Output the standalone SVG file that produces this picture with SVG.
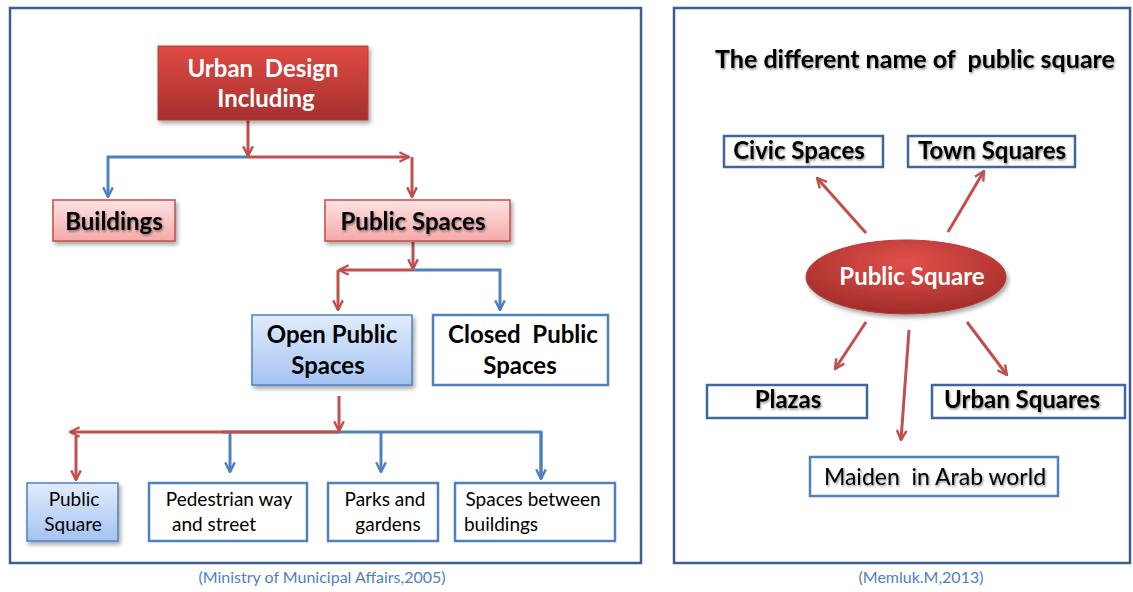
<svg xmlns="http://www.w3.org/2000/svg" width="1133" height="592" viewBox="0 0 1133 592">
<defs>
<style>
.frame{fill:#fff;stroke:#3a5f8e;stroke-width:2.5}
.r{stroke:#c0504d;stroke-width:3;fill:none}
.b{stroke:#4f81bd;stroke-width:3;fill:none}
.wbox{fill:#fff;stroke:#4f81bd;stroke-width:2.5}
.dbox{fill:#fff;stroke:#3f66a0;stroke-width:2.5}
.pink{fill:url(#gPink);stroke:#c0504d;stroke-width:1.5}
.lblue{fill:url(#gBlue);stroke:#4f81bd;stroke-width:1.5}
text{font-family:Lato,"Open Sans","Liberation Sans",sans-serif;text-anchor:middle;fill:#000;white-space:pre}
.bold{font-weight:bold}
.white{fill:#fff}
.sh{filter:url(#tsh)}
.cap{fill:#4f81bd;font-size:16px}
</style>
<linearGradient id="gRed" x1="0" y1="0" x2="0" y2="1"><stop offset="0" stop-color="#e04a45"/><stop offset="1" stop-color="#a5302d"/></linearGradient>
<linearGradient id="gPink" x1="0" y1="0" x2="0" y2="1"><stop offset="0" stop-color="#fde3e3"/><stop offset="1" stop-color="#f6a9a8"/></linearGradient>
<linearGradient id="gBlue" x1="0" y1="0" x2="0" y2="1"><stop offset="0" stop-color="#e2ecfb"/><stop offset="1" stop-color="#a3c3f3"/></linearGradient>
<radialGradient id="gEll" cx="0.5" cy="0.3" r="0.7"><stop offset="0" stop-color="#e2504b"/><stop offset="1" stop-color="#a12c29"/></radialGradient>
<filter id="sh" x="-10%" y="-10%" width="130%" height="140%"><feDropShadow dx="2" dy="3" stdDeviation="2" flood-color="#000" flood-opacity="0.35"/></filter>
<filter id="tsh" x="-5%" y="-20%" width="110%" height="150%"><feDropShadow dx="1" dy="1.5" stdDeviation="1.2" flood-color="#000" flood-opacity="0.45"/></filter>
<marker id="ar" viewBox="0 0 10 10" refX="9" refY="5" markerWidth="4" markerHeight="4" orient="auto" markerUnits="strokeWidth"><path d="M1,1 L9,5 L1,9" fill="none" stroke="#c0504d" stroke-width="2"/></marker>
<marker id="ab" viewBox="0 0 10 10" refX="9" refY="5" markerWidth="4" markerHeight="4" orient="auto" markerUnits="strokeWidth"><path d="M1,1 L9,5 L1,9" fill="none" stroke="#4f81bd" stroke-width="2"/></marker>
</defs>
<rect x="0" y="0" width="1133" height="592" fill="#fff"/>
<rect class="frame" x="10" y="8" width="631" height="555"/>
<rect class="frame" x="674" y="8" width="456" height="555"/>

<g id="connectors">
<path class="b" d="M248,157 H108 V197" marker-end="url(#ab)"/>
<path class="r" d="M248,120 V156" marker-end="url(#ar)"/>
<path class="r" d="M248,157 H409" marker-end="url(#ar)"/>
<path class="r" d="M412,157 V197" marker-end="url(#ar)"/>
<path class="r" d="M413,242 V269" marker-end="url(#ar)"/>
<path class="b" d="M413,270 H500 V310" marker-end="url(#ab)"/>
<path class="r" d="M413,270 H339" marker-end="url(#ar)"/>
<path class="r" d="M338,270 V310" marker-end="url(#ar)"/>
<path class="b" d="M222,432 H541 V479" />
<path class="b" d="M541,432 V479" marker-end="url(#ab)"/>
<path class="b" d="M230,432 V472" marker-end="url(#ab)"/>
<path class="b" d="M381,432 V472" marker-end="url(#ab)"/>
<path class="r" d="M339,396 V431" marker-end="url(#ar)"/>
<path class="r" d="M339,432 H70" marker-end="url(#ar)"/>
<path class="r" d="M76,436 V480" marker-end="url(#ar)"/>
<path class="r" d="M866,233 L817,178" marker-end="url(#ar)"/>
<path class="r" d="M948,232 L984,171" marker-end="url(#ar)"/>
<path class="r" d="M866,322 L835,369" marker-end="url(#ar)"/>
<path class="r" d="M909,330 L901,440" marker-end="url(#ar)"/>
<path class="r" d="M967,322 L1007,375" marker-end="url(#ar)"/>
</g>

<g id="urban-design">
<rect x="158" y="46" width="210" height="74" fill="url(#gRed)" stroke="#b33c39" stroke-width="1" filter="url(#sh)"/>
<text class="bold white" x="263" y="77" font-size="24">Urban  Design</text>
<text class="bold white" x="266" y="107" font-size="24">Including</text>
</g>
<g id="buildings">
<rect class="pink" x="53" y="200" width="122" height="41" filter="url(#sh)"/>
<text class="bold sh" x="114" y="230" font-size="24">Buildings</text>
</g>
<g id="public-spaces">
<rect class="pink" x="325" y="200" width="185" height="41" filter="url(#sh)"/>
<text class="bold sh" x="413" y="230" font-size="24">Public Spaces</text>
</g>
<g id="open-public-spaces">
<rect class="lblue" x="252" y="315" width="160" height="70" filter="url(#sh)"/>
<text class="bold" x="332" y="343" font-size="24">Open Public</text>
<text class="bold" x="328" y="374" font-size="24">Spaces</text>
</g>
<g id="closed-public-spaces">
<rect class="wbox" x="433" y="315" width="175" height="70"/>
<text class="bold" x="523" y="343" font-size="24">Closed  Public</text>
<text class="bold" x="520" y="374" font-size="24">Spaces</text>
</g>
<g id="public-square-box">
<rect class="lblue" x="27" y="483" width="91" height="58" filter="url(#sh)"/>
<text x="74" y="506" font-size="19">Public</text>
<text x="73" y="531" font-size="19">Square</text>
</g>
<g id="pedestrian">
<rect class="wbox" x="149" y="483" width="158" height="58"/>
<text x="229" y="506" font-size="19">Pedestrian way</text>
<text x="214" y="531" font-size="19">and street</text>
</g>
<g id="parks">
<rect class="wbox" x="328" y="483" width="110" height="58"/>
<text x="385" y="506" font-size="19">Parks and</text>
<text x="388" y="531" font-size="19">gardens</text>
</g>
<g id="spaces-between">
<rect class="wbox" x="455" y="483" width="160" height="58"/>
<text x="533" y="506" font-size="19">Spaces between</text>
<text x="501" y="531" font-size="19">buildings</text>
</g>
<text class="cap" x="322" y="583">(Ministry of Municipal Affairs,2005)</text>

<text class="bold sh" x="915" y="68" font-size="25">The different name of  public square</text>
<g id="civic-spaces">
<rect class="dbox" x="724" y="136" width="159" height="31"/>
<text class="bold sh" x="799" y="159" font-size="24">Civic Spaces</text>
</g>
<g id="town-squares">
<rect class="dbox" x="908" y="136" width="167" height="31"/>
<text class="bold sh" x="992" y="159" font-size="24">Town Squares</text>
</g>
<g id="public-square-ellipse">
<ellipse cx="906" cy="277" rx="100" ry="37" fill="url(#gEll)" stroke="#b33c39" stroke-width="1" filter="url(#sh)"/>
<text class="bold white" x="912" y="285" font-size="24">Public Square</text>
</g>
<g id="plazas">
<rect class="dbox" x="707" y="385" width="160" height="33"/>
<text class="bold sh" x="788" y="408" font-size="24">Plazas</text>
</g>
<g id="urban-squares">
<rect class="dbox" x="932" y="385" width="193" height="33"/>
<text class="bold sh" x="1022" y="408" font-size="24">Urban Squares</text>
</g>
<g id="maiden">
<rect class="wbox" x="810" y="457" width="248" height="39"/>
<text class="sh" x="935" y="485" font-size="23">Maiden  in Arab world</text>
</g>
<text class="cap" x="921" y="583">(Memluk.M,2013)</text>
</svg>
